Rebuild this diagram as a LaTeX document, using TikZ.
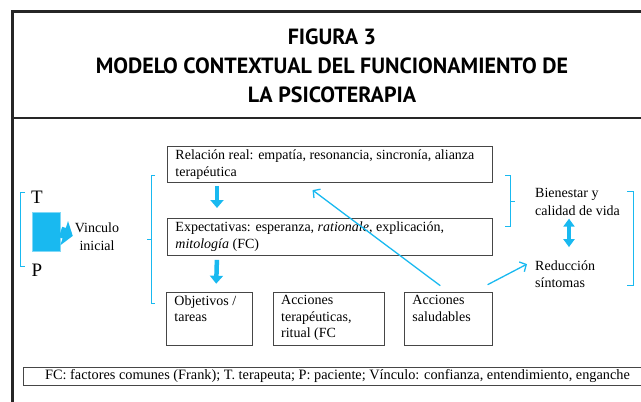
\documentclass[tikz,border=0pt]{standalone}
\usepackage{fontspec}
\setmainfont{Liberation Serif}
\newfontfamily\titulofont{PT Sans}
\usetikzlibrary{positioning,arrows.meta,calc}

\definecolor{celeste}{RGB}{25,185,240}
\definecolor{borde}{RGB}{70,70,70}

% texto arriba a la izquierda dentro de una caja de alto fijo
\newcommand{\textocaja}[3]{\parbox[t][#2][t]{#1}{\raggedright #3}}

\begin{document}
\begin{tikzpicture}[x=1pt,y=-1pt,
    caja/.style={draw=borde, line width=0.9pt, anchor=north west, inner xsep=8pt, inner ysep=3.5pt, font=\fontsize{14}{16.5}\selectfont},
    texto/.style={inner sep=0pt, font=\fontsize{14}{17.5}\selectfont},
    llave/.style={celeste, line width=0.9pt},
    flechagorda/.style={celeste, line width=4.5pt, -{Triangle[width=13pt,length=8pt]}},
    dobleflecha/.style={celeste, line width=4.5pt, {Triangle[width=11pt,length=8pt]}-{Triangle[width=11pt,length=8pt]}},
    flechafina/.style={celeste, line width=1.3pt, -{Straight Barb[length=5pt,width=11pt]}}]
        \path[use as bounding box, clip] (0,0) rectangle (641,402);

        % Marco
        \draw[line width=3pt, black!85] (12.5,410) -- (12.5,11) -- (660,11);
        \draw[line width=2pt, black!85] (12.5,118) -- (660,118);

        % Titulo
        \node (titulo) at (332,66) [font=\titulofont\bfseries\fontsize{22}{29}\selectfont, align=center]
            {FIGURA 3\\MODELO CONTEXTUAL DEL FUNCIONAMIENTO DE\\LA PSICOTERAPIA};

        % Nodes
        \node (t) at (37,197) [font=\fontsize{19}{19}\selectfont, inner sep=0pt] {T};
        \node (p) at (37,270) [font=\fontsize{19}{19}\selectfont, inner sep=0pt] {P};
        \node (bloque) at (46,232) [fill=celeste, draw=celeste!55, line width=1pt, minimum width=28, minimum height=39, inner sep=0pt] {};
        \node (vinculo) at (97,236.5) [texto, align=center] {Vinculo\\inicial};

        \node (real) at (167,146) [caja] {\textocaja{309pt}{29pt}{Relación real: empatía, resonancia, sincronía, alianza\\terapéutica}};
        \node (expec) at (167,218) [caja] {\textocaja{309pt}{30pt}{Expectativas: esperanza, \textit{rationale}, explicación,\\\textit{mitología} (FC)}};
        \node (obj) at (166,291.7) [caja] {\textocaja{70pt}{46pt}{Objetivos /\\tareas}};
        \node (terap) at (272.7,291.7) [caja] {\textocaja{95.6pt}{46pt}{Acciones\\terapéuticas,\\ritual (FC}};
        \node (salud) at (404,291.7) [caja] {\textocaja{71.7pt}{46pt}{Acciones\\saludables}};

        \node (bien) at (535,202) [texto, anchor=west, align=left] {Bienestar y\\calidad de vida};
        \node (reduc) at (535,274) [texto, anchor=west, align=left] {Reducción\\síntomas};

        \node (nota) at (337.5,376) [draw=borde, line width=0.9pt, minimum width=629, minimum height=18, inner sep=0pt, font=\fontsize{14.3}{14.3}\selectfont]
            {FC: factores comunes (Frank); T. terapeuta; P: paciente; Vínculo: confianza, entendimiento, enganche};

        % Llaves
        \draw[llave] (25,192.7) -- (20.7,192.7) -- (20.7,266) -- (25,266);
        \draw[llave] (155,175) -- (151,175) -- (151,303) -- (155,303);
        \draw[llave] (151,239) -- (147,239);
        \draw[llave] (505,175) -- (510,175) -- (510,226.7) -- (505,226.7);
        \draw[llave] (510,201.7) -- (515,201.7);
        \draw[llave] (627,191.7) -- (633,191.7) -- (633,285) -- (627,285);

        % Edges
        \draw[celeste, line width=11pt, -{Triangle[width=25pt,length=9pt]}, shorten >=2pt] (bloque.east) -- (vinculo.west);
        \draw[flechagorda, shorten <=3pt, shorten >=10pt] ([xshift=50]real.south west) -- ([xshift=50]expec.north west);
        \draw[flechagorda, shorten <=4pt, shorten >=8pt] ([xshift=50]expec.south west) -- ([xshift=50]obj.north west);
        \draw[dobleflecha, shorten <=3pt, shorten >=13pt] ([xshift=34]bien.south west) -- ([xshift=34]reduc.north west);
        \draw[flechafina, shorten <=10pt, shorten >=12pt] (salud.north) -- ($(real.south)+(-27,0)$);
        \draw[flechafina] ($(salud.north east)+(-5,-7)$) -- ($(reduc.north west)+(-8,4)$);
    \end{tikzpicture}
\end{document}
